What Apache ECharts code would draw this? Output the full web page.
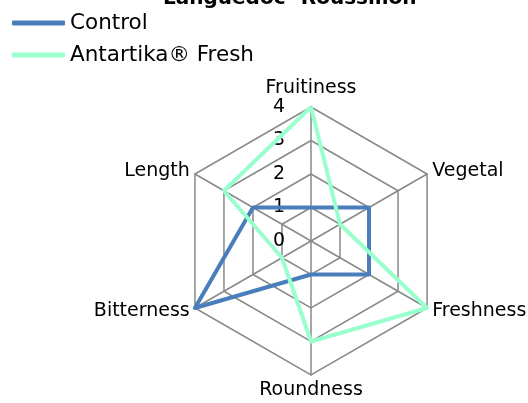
<!DOCTYPE html>
<html>
<head>
<meta charset="utf-8">
<script src="https://cdn.jsdelivr.net/npm/echarts@6/dist/echarts.min.js"></script>
<style>
  html, body { margin: 0; padding: 0; background: #fff; }
  #chart { width: 528px; height: 403px; }
</style>
</head>
<body>
<div id="chart"></div>
<script>
// axes, listed counterclockwise from the top (echarts radar order)
var axes = ['Fruitiness', 'Length', 'Bitterness', 'Roundness', 'Freshness', 'Vegetal'];
var seriesNames = ['Control', 'Antartika® Fresh'];
var control = [1, 2, 4, 1, 2, 2];
var antartika = [4, 3, 1, 3, 4, 1];
var axisMax = 4;

var font = 'DejaVu Sans';
var chart = echarts.init(document.getElementById('chart'));

var option = {
  animation: false,
  title: {
    text: 'Languedoc- Roussillon',
    left: 163,
    top: -11,
    padding: 0,
    textStyle: { fontFamily: font, fontSize: 20, fontWeight: 'bold', color: '#000' }
  },
  legend: {
    orient: 'vertical',
    left: 12,
    top: 12,
    padding: 0,
    itemWidth: 53,
    itemHeight: 5,
    itemGap: 10,
    icon: 'roundRect',
    data: seriesNames,
    textStyle: { fontFamily: font, fontSize: 21.5, color: '#000' }
  },
  color: ['#4a7ebb', '#99ffcc'],
  radar: {
    center: [311, 241],
    radius: 134,
    shape: 'polygon',
    splitNumber: 4,
    nameGap: 6,
    axisName: { fontFamily: font, fontSize: 19, color: '#000' },
    axisLine: { lineStyle: { color: '#888', width: 1.5 } },
    splitLine: { lineStyle: { color: '#888', width: 1.5 } },
    splitArea: { show: false },
    axisLabel: { show: false },
    indicator: axes.map(function (name, i) {
      var ind = { name: name, min: 0, max: axisMax };
      // only the first axis carries the value labels
      if (i === 0) {
        ind.axisLabel = { show: true, fontFamily: font, fontSize: 19, color: '#000', margin: 26 };
      }
      return ind;
    })
  },
  series: [{
    type: 'radar',
    symbol: 'none',
    lineStyle: { width: 4 },
    data: [
      { name: seriesNames[0], value: control },
      { name: seriesNames[1], value: antartika }
    ]
  }]
};

chart.setOption(option);
</script>
</body>
</html>
